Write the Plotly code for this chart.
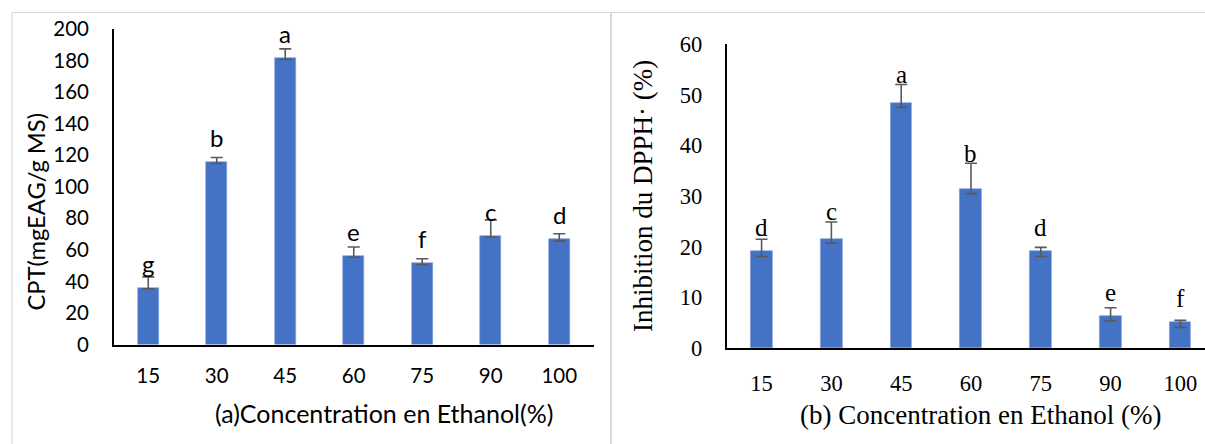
import plotly.graph_objects as go

W, H = 1205, 444

# ---- data ----
categories = ["15", "30", "45", "60", "75", "90", "100"]

cpt_values = [36.1, 115.5, 181.5, 56.1, 51.5, 68.9, 66.6]
cpt_err_plus = [6.8, 3.0, 5.9, 5.7, 2.9, 10.1, 3.6]
cpt_err_minus = [0.8, 0.8, 0.8, 0.8, 0.9, 0.8, 1.1]
cpt_letters = ["g", "b", "a", "e", "f", "c", "d"]

dpph_values = [19.1, 21.6, 48.4, 31.4, 19.1, 6.4, 5.2]
dpph_err_plus = [2.4, 3.3, 3.6, 5.1, 0.8, 1.6, 0.3]
dpph_err_minus = [1.0, 0.9, 0.9, 0.9, 1.0, 1.0, 1.1]
dpph_letters = ["d", "c", "a", "b", "d", "e", "f"]

left_ticks = [0, 20, 40, 60, 80, 100, 120, 140, 160, 180, 200]
right_ticks = [0, 10, 20, 30, 40, 50, 60]

BAR = "#4472C4"
ERR = "#595959"
SANS = "Lato"
SERIF = "Liberation Serif"

fig = go.Figure()

idx = list(range(len(categories)))

fig.add_trace(go.Bar(
    x=idx, y=cpt_values, width=0.31,
    marker=dict(color=BAR, line=dict(color="#7f9fd8", width=0.6)),
    error_y=dict(type="data", symmetric=False, array=cpt_err_plus,
                 arrayminus=cpt_err_minus, color=ERR, thickness=1.6, width=6),
    xaxis="x", yaxis="y", showlegend=False, hoverinfo="skip"))

fig.add_trace(go.Bar(
    x=idx, y=dpph_values, width=0.31,
    marker=dict(color=BAR, line=dict(color="#7f9fd8", width=0.6)),
    error_y=dict(type="data", symmetric=False, array=dpph_err_plus,
                 arrayminus=dpph_err_minus, color=ERR, thickness=1.6, width=6),
    xaxis="x2", yaxis="y2", showlegend=False, hoverinfo="skip"))

annotations = []
# significance letters: left ones sit a fixed distance above the bar,
# right ones above the bar or just above the error bar, whichever is higher
for i, (v, t) in enumerate(zip(cpt_values, cpt_letters)):
    annotations.append(dict(x=i, y=v + 15.5, xref="x", yref="y", text=t,
                            showarrow=False, yanchor="middle",
                            font=dict(family=SANS, size=24, color="#000")))
for i, (v, e, t) in enumerate(zip(dpph_values, dpph_err_plus, dpph_letters)):
    annotations.append(dict(x=i, y=max(v + 4.7, v + e + 2.0), xref="x2", yref="y2",
                            text=t, showarrow=False, yanchor="middle",
                            font=dict(family=SERIF, size=25, color="#000")))

# axis titles
annotations += [
    dict(x=35.6 / W, y=1 - 212 / H, xref="paper", yref="paper",
         text="CPT(mgEAG/g MS)", textangle=-90, showarrow=False,
         xanchor="center", yanchor="middle",
         font=dict(family=SANS, size=23.7, color="#000")),
    dict(x=384 / W, y=1 - 413 / H, xref="paper", yref="paper",
         text="(a)Concentration en Ethanol(%)", showarrow=False,
         xanchor="center", yanchor="middle",
         font=dict(family=SANS, size=25, color="#000")),
    dict(x=643 / W, y=1 - 196 / H, xref="paper", yref="paper",
         text="Inhibition du DPPH· (%)", textangle=-90, showarrow=False,
         xanchor="center", yanchor="middle",
         font=dict(family=SERIF, size=27, color="#000")),
    dict(x=980 / W, y=1 - 415 / H, xref="paper", yref="paper",
         text="(b) Concentration en Ethanol (%)", showarrow=False,
         xanchor="center", yanchor="middle",
         font=dict(family=SERIF, size=27, color="#000")),
]

# light grey frame lines
shapes = [
    dict(type="line", xref="paper", yref="paper", x0=12 / W, x1=1, y0=1 - 12.5 / H, y1=1 - 12.5 / H,
         line=dict(color="#d9d9d9", width=1.2), layer="below"),
    dict(type="line", xref="paper", yref="paper", x0=12 / W, x1=12 / W, y0=0, y1=1 - 12.5 / H,
         line=dict(color="#d9d9d9", width=1.2), layer="below"),
    dict(type="line", xref="paper", yref="paper", x0=611 / W, x1=611 / W, y0=0, y1=1 - 12.5 / H,
         line=dict(color="#d9d9d9", width=2), layer="below"),
]

common_x = dict(showgrid=False, zeroline=False, showline=True, linecolor="#000",
                linewidth=1.8, ticks="", tickmode="array", tickvals=idx,
                ticktext=categories, fixedrange=True, automargin=False)
common_y = dict(showgrid=False, zeroline=False, showline=True, linecolor="#000",
                linewidth=1.8, ticks="", tickmode="array", fixedrange=True,
                automargin=False)

fig.update_layout(
    width=W, height=H, autosize=False,
    margin=dict(l=0, r=0, t=0, b=0, pad=0, autoexpand=False),
    paper_bgcolor="white", plot_bgcolor="white",
    bargap=0,
    xaxis=dict(**common_x, domain=[114 / W, 593.5 / W], range=[-0.5, 6.5],
               anchor="y", ticklabelstandoff=12,
               tickfont=dict(family=SANS, size=20.5, color="#000")),
    yaxis=dict(**common_y, domain=[1 - 344.5 / H, 1 - 29 / H], range=[0, 200],
               tickvals=left_ticks, anchor="x", ticklabelstandoff=19,
               tickfont=dict(family=SANS, size=20.5, color="#000")),
    xaxis2=dict(**common_x, domain=[726.7 / W, 1.0], range=[-0.5, 6.353],
                anchor="y2", ticklabelstandoff=14,
                tickfont=dict(family=SERIF, size=22.5, color="#000")),
    yaxis2=dict(**common_y, domain=[1 - 348.3 / H, 1 - 44 / H], range=[0, 60],
                tickvals=right_ticks, anchor="x2", ticklabelstandoff=18,
                tickfont=dict(family=SERIF, size=22.5, color="#000")),
    annotations=annotations,
    shapes=shapes,
)

fig.write_html(
    "out.html",
    config={"responsive": False, "displayModeBar": False},
    post_script=(
        "var gd=document.getElementById('{plot_id}');"
        "var css='margin:0;padding:0;overflow:hidden;width:1205px;height:444px;';"
        "document.documentElement.style.cssText=css;"
        "document.body.style.cssText=css+'position:relative;';"
        "gd.style.position='absolute';gd.style.left='0px';gd.style.top='0px';"
    ),
)
